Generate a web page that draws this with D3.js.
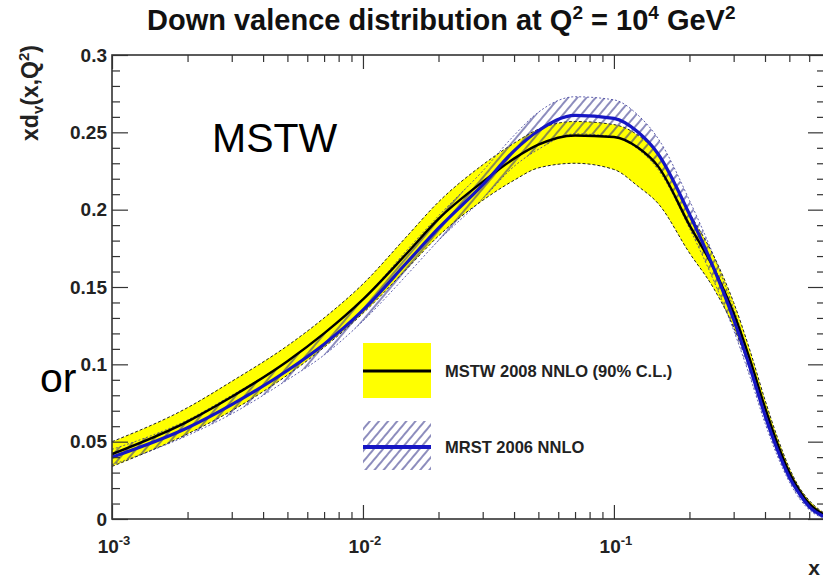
<!DOCTYPE html>
<html>
<head>
<meta charset="utf-8">
<script src="https://cdn.jsdelivr.net/npm/d3@7"></script>
<style>
  html, body { margin: 0; padding: 0; background: #fff; }
  svg { display: block; font-family: "Liberation Sans", Arial, Helvetica, sans-serif; }
</style>
</head>
<body>
<svg id="chart" width="823" height="580"></svg>
<script>
// x grid shared by both PDF sets
const xValues = [0.001, 0.002, 0.003, 0.005, 0.007, 0.01, 0.015, 0.02, 0.03, 0.04, 0.05, 0.07,
                 0.1, 0.125, 0.15, 0.2, 0.25, 0.3, 0.35, 0.4, 0.45, 0.5, 0.55, 0.6, 0.7];

// MSTW 2008 NNLO: central value and 90% C.L. band
const mstwCentral = [0.042, 0.063, 0.079, 0.102, 0.120, 0.142, 0.172, 0.194, 0.218, 0.233, 0.242, 0.248,
                     0.247, 0.240, 0.228, 0.190, 0.162, 0.133, 0.102, 0.072, 0.048, 0.030, 0.018, 0.010, 0.002];
const mstwLow     = [0.034, 0.055, 0.070, 0.093, 0.111, 0.133, 0.162, 0.183, 0.206, 0.219, 0.227, 0.230,
                     0.226, 0.215, 0.204, 0.172, 0.149, 0.124, 0.096, 0.067, 0.044, 0.027, 0.016, 0.008, 0.001];
const mstwHigh    = [0.050, 0.072, 0.089, 0.112, 0.130, 0.152, 0.183, 0.205, 0.229, 0.243, 0.252, 0.257,
                     0.255, 0.248, 0.236, 0.198, 0.170, 0.140, 0.108, 0.077, 0.052, 0.033, 0.020, 0.012, 0.003];

// MRST 2006 NNLO: central value and uncertainty band
const mrstCentral = [0.040, 0.059, 0.074, 0.096, 0.113, 0.135, 0.166, 0.188, 0.216, 0.238, 0.251, 0.261,
                     0.259, 0.250, 0.236, 0.197, 0.162, 0.129, 0.097, 0.067, 0.044, 0.027, 0.016, 0.008, 0.001];
const mrstLow     = [0.035, 0.054, 0.068, 0.090, 0.106, 0.128, 0.158, 0.180, 0.207, 0.228, 0.239, 0.249,
                     0.247, 0.239, 0.226, 0.188, 0.154, 0.122, 0.091, 0.062, 0.040, 0.024, 0.013, 0.006, 0.000];
const mrstHigh    = [0.045, 0.064, 0.080, 0.102, 0.120, 0.142, 0.174, 0.196, 0.225, 0.248, 0.263, 0.273,
                     0.271, 0.261, 0.246, 0.206, 0.170, 0.136, 0.103, 0.072, 0.048, 0.030, 0.019, 0.010, 0.002];

// axes
const xDomain = [0.001, 0.7];
const yDomain = [0, 0.3];
const xMajorTicks = [0.001, 0.01, 0.1];
const xTickExponents = ["-3", "-2", "-1"];
const yMajorTicks = [0, 0.05, 0.1, 0.15, 0.2, 0.25, 0.3];
const yTickLabels = ["0", "0.05", "0.1", "0.15", "0.2", "0.25", "0.3"];
const legendLabels = ["MSTW 2008 NNLO (90% C.L.)", "MRST 2006 NNLO"];

const frame = { left: 112, right: 826, top: 55, bottom: 519 };

const svg = d3.select("#chart");
const xs = d3.scaleLog().domain(xDomain).range([frame.left, frame.right]);
const ys = d3.scaleLinear().domain(yDomain).range([frame.bottom, frame.top]);

const rows = (c, lo, hi) => xValues.map((x, i) => ({ x, c: c[i], lo: lo[i], hi: hi[i] }));
const mstw = rows(mstwCentral, mstwLow, mstwHigh);
const mrst = rows(mrstCentral, mrstLow, mrstHigh);

// hatch pattern for the MRST band
const defs = svg.append("defs");
const hatch = defs.append("pattern").attr("id", "hatch")
  .attr("patternUnits", "userSpaceOnUse").attr("width", 7).attr("height", 7)
  .attr("patternTransform", "rotate(40)");
hatch.append("line").attr("x1", 1).attr("y1", -1).attr("x2", 1).attr("y2", 8)
  .attr("stroke", "#2e2e86").attr("stroke-width", 1.1);
defs.append("clipPath").attr("id", "plotClip").append("rect")
  .attr("x", frame.left).attr("y", frame.top)
  .attr("width", frame.right - frame.left).attr("height", frame.bottom - frame.top);

// background slide text
svg.append("text").attr("x", 212).attr("y", 152).attr("font-size", 41).attr("fill", "#000").text("MSTW");
svg.append("text").attr("x", 40).attr("y", 392).attr("font-size", 41).attr("fill", "#000").text("or");

const plot = svg.append("g").attr("clip-path", "url(#plotClip)");
const curve = d3.curveMonotoneX;
const area = d3.area().x(d => xs(d.x)).y0(d => ys(d.lo)).y1(d => ys(d.hi)).curve(curve);
const lineOf = key => d3.line().x(d => xs(d.x)).y(d => ys(d[key])).curve(curve);

// MSTW band
plot.append("path").datum(mstw).attr("d", area).attr("fill", "#ffff00");
["lo", "hi"].forEach(k => plot.append("path").datum(mstw).attr("d", lineOf(k))
  .attr("fill", "none").attr("stroke", "#222").attr("stroke-width", 1).attr("stroke-dasharray", "3,2"));

// MRST band
plot.append("path").datum(mrst).attr("d", area).attr("fill", "url(#hatch)");
["lo", "hi"].forEach(k => plot.append("path").datum(mrst).attr("d", lineOf(k))
  .attr("fill", "none").attr("stroke", "#3a3a9a").attr("stroke-width", 0.8).attr("stroke-dasharray", "2,2"));

// central curves
plot.append("path").datum(mstw).attr("d", lineOf("c"))
  .attr("fill", "none").attr("stroke", "#000").attr("stroke-width", 2.4);
plot.append("path").datum(mrst).attr("d", lineOf("c"))
  .attr("fill", "none").attr("stroke", "#1616c4").attr("stroke-width", 3.2);

// frame and ticks
const tickStyle = g => {
  g.select(".domain").remove();
  g.selectAll(".tick line").attr("stroke", "#333").attr("stroke-width", 1.2);
  g.selectAll(".tick text").remove();
};
const xMinor = xs.ticks().filter(v => !xMajorTicks.some(m => Math.abs(m - v) / m < 1e-6));
const yMinor = d3.range(0, 0.3001, 0.01).filter(v => Math.abs(v / 0.05 - Math.round(v / 0.05)) > 1e-6);

svg.append("g").attr("transform", `translate(0,${frame.bottom})`)
  .call(d3.axisBottom(xs).tickValues(xMajorTicks).tickSize(-14)).call(tickStyle);
svg.append("g").attr("transform", `translate(0,${frame.bottom})`)
  .call(d3.axisBottom(xs).tickValues(xMinor).tickSize(-7)).call(tickStyle);
svg.append("g").attr("transform", `translate(0,${frame.top})`)
  .call(d3.axisTop(xs).tickValues(xMajorTicks).tickSize(-14)).call(tickStyle);
svg.append("g").attr("transform", `translate(0,${frame.top})`)
  .call(d3.axisTop(xs).tickValues(xMinor).tickSize(-7)).call(tickStyle);
svg.append("g").attr("transform", `translate(${frame.left},0)`)
  .call(d3.axisLeft(ys).tickValues(yMajorTicks).tickSize(-16)).call(tickStyle);
svg.append("g").attr("transform", `translate(${frame.left},0)`)
  .call(d3.axisLeft(ys).tickValues(yMinor).tickSize(-8)).call(tickStyle);
svg.append("g").attr("transform", `translate(${frame.right},0)`)
  .call(d3.axisRight(ys).tickValues(yMajorTicks).tickSize(-18)).call(tickStyle);
svg.append("g").attr("transform", `translate(${frame.right},0)`)
  .call(d3.axisRight(ys).tickValues(yMinor).tickSize(-9)).call(tickStyle);

svg.append("rect").attr("x", frame.left).attr("y", frame.top)
  .attr("width", frame.right - frame.left).attr("height", frame.bottom - frame.top)
  .attr("fill", "none").attr("stroke", "#333").attr("stroke-width", 1.6);

// tick labels
svg.append("g").selectAll("text").data(yMajorTicks).join("text")
  .attr("x", frame.left - 5).attr("y", d => ys(d)).attr("dy", "0.35em")
  .attr("text-anchor", "end").attr("font-weight", "bold").attr("font-size", 19).attr("fill", "#222")
  .text((d, i) => yTickLabels[i]);

const xl = svg.append("g").selectAll("text").data(xMajorTicks).join("text")
  .attr("x", d => xs(d) + 2).attr("y", 553)
  .attr("text-anchor", "middle").attr("font-weight", "bold").attr("font-size", 19).attr("fill", "#222");
xl.append("tspan").text("10");
xl.append("tspan").attr("dy", -8).attr("font-size", 13).text((d, i) => xTickExponents[i]);

// axis titles
svg.append("text").attr("x", 820).attr("y", 575).attr("text-anchor", "end")
  .attr("font-weight", "bold").attr("font-size", 21).attr("fill", "#222").text("x");

const yt = svg.append("text").attr("transform", "translate(38,45) rotate(-90)")
  .attr("text-anchor", "end").attr("font-weight", "bold").attr("font-size", 23).attr("fill", "#222");
yt.append("tspan").text("xd");
yt.append("tspan").attr("dy", 5).attr("font-size", 15).text("v");
yt.append("tspan").attr("dy", -5).text("(x,Q");
yt.append("tspan").attr("dy", -9).attr("font-size", 15).text("2");
yt.append("tspan").attr("dy", 9).text(")");

// title
const title = svg.append("text").attr("x", 147).attr("y", 30)
  .attr("font-weight", "bold").attr("font-size", 29).attr("fill", "#111");
title.append("tspan").text("Down valence distribution at Q");
title.append("tspan").attr("dy", -11).attr("font-size", 19).text("2");
title.append("tspan").attr("dy", 11).text(" = 10");
title.append("tspan").attr("dy", -11).attr("font-size", 19).text("4");
title.append("tspan").attr("dy", 11).text(" GeV");
title.append("tspan").attr("dy", -11).attr("font-size", 19).text("2");

// legend
const leg = svg.append("g");
leg.append("rect").attr("x", 363).attr("y", 343).attr("width", 68).attr("height", 55).attr("fill", "#ffff00");
leg.append("line").attr("x1", 363).attr("x2", 431).attr("y1", 371).attr("y2", 371)
  .attr("stroke", "#000").attr("stroke-width", 3);
leg.append("rect").attr("x", 363).attr("y", 421).attr("width", 68).attr("height", 49).attr("fill", "url(#hatch)");
leg.append("line").attr("x1", 363).attr("x2", 431).attr("y1", 447).attr("y2", 447)
  .attr("stroke", "#1616c4").attr("stroke-width", 4);
leg.selectAll("text.lab").data(legendLabels).join("text").attr("class", "lab")
  .attr("x", 445).attr("y", (d, i) => [371, 447][i]).attr("dy", "0.36em")
  .attr("font-weight", "bold").attr("font-size", 16.5).attr("fill", "#222").text(d => d);
</script>
</body>
</html>
